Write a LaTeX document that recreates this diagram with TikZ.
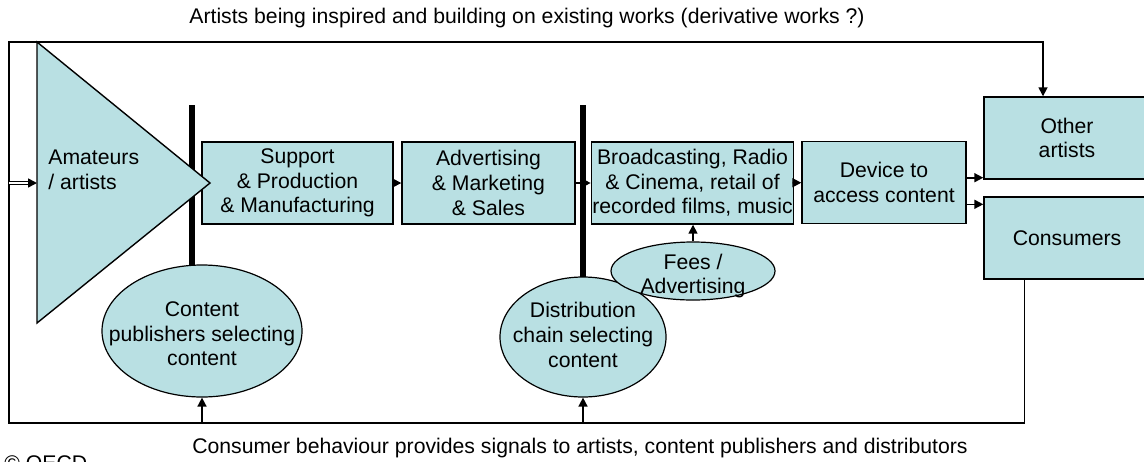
\documentclass[tikz,border=0pt]{standalone}
\usepackage{fontspec}
\setmainfont{Liberation Sans}
\usetikzlibrary{shapes.geometric,arrows.meta}
\definecolor{paleteal}{RGB}{185,224,227}
\tikzset{
  box/.style={draw, fill=paleteal, line width=0.7pt, minimum height=41pt, align=center, inner sep=0.5pt},
  blob/.style={ellipse, draw, fill=paleteal, line width=0.6pt, inner sep=0pt},
  inside/.style={align=center, inner sep=0pt},
  bar/.style={line width=2.6pt},
  arr/.style={-{Triangle[length=4.5pt,width=4.5pt]}, line width=0.8pt},
  dbl/.style={double, double distance=1.2pt, line width=0.5pt},
}

\begin{document}
\begin{tikzpicture}[x=0.5pt,y=-0.5pt,font=\fontsize{10.6}{12.3}\selectfont]
\clip (0,0) rectangle (1144,461);
% gates
\draw[bar] (192,105) -- (192,300);
\draw[bar] (583,105) -- (583,300);
% value chain
\node[box, minimum width=95.5pt] (support) at (297.5,183) {Support\\ \& Production\\ \& Manufacturing};
\node[box, minimum width=86.5pt] (adv) at (488.5,183) {Advertising\\ \& Marketing\\ \& Sales};
\node[box, minimum width=100pt] (bcast) at (692.5,183) {Broadcasting, Radio\\ \& Cinema, retail of\\ recorded films, music};
\node[box, minimum width=82pt] (device) at (884,182.5) {Device to\\ access content};
\node[box, minimum width=83pt] (other) at (1067,138) {Other\\ artists};
\node[box, minimum width=83pt] (consumers) at (1067,238) {Consumers};
% amateurs
\draw[fill=paleteal, line width=0.7pt] (37,42) -- (37,323) -- (210,183) -- cycle;
\coordinate (tri) at (37,183);
\node[anchor=west, align=left, inner sep=0pt] (amateurs) at (48,170) {Amateurs\\ / artists};
% selection
\node[blob, minimum width=100pt, minimum height=66pt] (content) at (202,331) {};
\node[inside] (contentTxt) at (202,334) {Content\\ publishers selecting\\ content};
\node[blob, minimum width=83pt, minimum height=60pt] (dist) at (583,337) {};
\node[inside] (distTxt) at (583,335) {Distribution\\ chain selecting\\ content};
\node[blob, minimum width=82pt, minimum height=29pt] (fees) at (693,271) {};
\node[inside] (feesTxt) at (693,276) {Fees /\\ Advertising};
% flows
\draw[arr] (support) -- (adv);
\draw[arr] (adv) -- (bcast);
\draw[arr] (bcast) -- (device);
\draw[arr] ([yshift=1pt]other.south west -| device.east) -- ([yshift=1pt]other.south west);
\draw[arr] ([yshift=-4pt]consumers.north west -| device.east) -- ([yshift=-4pt]consumers.north west);
\draw[arr] (fees.north) -- (fees.north |- bcast.south);
% feedback loop
\coordinate (loopBL) at (9,423);
\coordinate (loopTL) at (9,42);
\draw[arr] ([xshift=20.5pt]consumers.south west) |- (loopBL) -- (loopTL) -| ([xshift=-12pt]other.north);
\draw[arr] (content.south |- loopBL) -- (content.south);
\draw[arr] (dist.south |- loopBL) -- (dist.south);
\draw[dbl] (loopTL |- tri) -- ([xshift=-3pt]tri);
\draw[arr] ([xshift=-4pt]tri) -- (tri);
% notes
\node[inner sep=0pt] (topnote) at (527,18) {Artists being inspired and building on existing works (derivative works ?)};
\node[inner sep=0pt] (bottomnote) at (580,448) {Consumer behaviour provides signals to artists, content publishers and distributors};
\node[anchor=base west, inner sep=0pt] (source) at (4,470) {© OECD};
\end{tikzpicture}
\end{document}
